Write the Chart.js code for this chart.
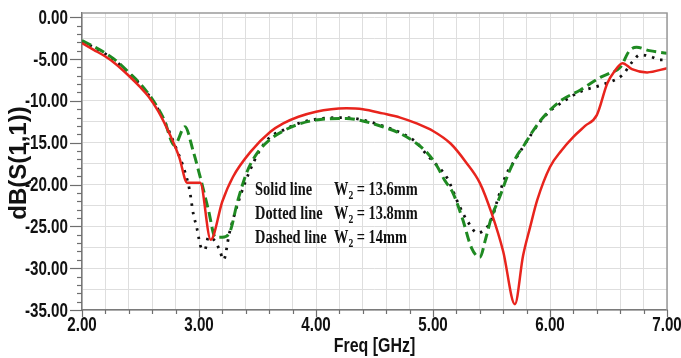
<!DOCTYPE html>
<html><head><meta charset="utf-8">
<script src="https://cdn.jsdelivr.net/npm/chart.js@4.4.1/dist/chart.umd.min.js"></script>
<style>html,body{margin:0;padding:0;background:#fff;}#wrap{width:681px;height:358px;}</style>
</head><body><div id="wrap"><canvas id="c" width="681" height="358"></canvas></div>
<script>
// Frequencies (GHz) and |S11| (dB)
const solidFreq = [2.0,2.1,2.2,2.28,2.4,2.5,2.57,2.65,2.75,2.83,2.9,3.01,3.1,3.2,3.29,3.44,3.61,3.72,3.85,4.0,4.13,4.26,4.4,4.57,4.72,4.86,5.0,5.15,5.28,5.4,5.5,5.6,5.7,5.77,5.83,5.89,6.0,6.1,6.2,6.3,6.4,6.49,6.55,6.62,6.7,6.83,7.0];
const solidDb   = [-3.1,-3.9,-4.7,-5.5,-7.0,-8.4,-9.5,-11.2,-14.0,-16.7,-19.8,-19.8,-26.6,-22.0,-19.1,-16.1,-13.7,-12.7,-11.9,-11.3,-11.0,-10.9,-11.0,-11.5,-12.0,-12.7,-13.6,-15.1,-17.3,-19.8,-23.4,-28.0,-34.3,-28.5,-25.1,-21.9,-17.9,-15.9,-14.3,-13.0,-11.7,-7.9,-6.5,-5.5,-6.2,-6.6,-6.1];

const dottedFreq = [2.0,2.1,2.2,2.3,2.4,2.5,2.6,2.7,2.8,2.88,2.92,2.95,2.98,3.02,3.05,3.08,3.14,3.18,3.21,3.26,3.35,3.43,3.52,3.61,3.72,3.85,4.0,4.26,4.4,4.57,4.72,4.86,4.95,5.04,5.12,5.23,5.3,5.38,5.44,5.5,5.55,5.62,5.7,5.77,5.91,6.0,6.09,6.26,6.44,6.62,6.7,6.77,6.86,6.94,7.0];
const dottedDb   = [-2.9,-3.6,-4.4,-5.4,-6.7,-8.1,-9.9,-12.3,-15.5,-18.5,-20.7,-23.4,-25.1,-27.6,-27.8,-26.3,-26.8,-28.0,-29.0,-25.8,-21.5,-18.5,-15.9,-14.3,-13.5,-12.7,-12.2,-12.0,-12.3,-13.0,-13.8,-15.0,-16.5,-17.8,-19.2,-22.7,-24.5,-25.8,-25.4,-24.2,-21.9,-19.0,-17.1,-15.5,-12.6,-11.2,-10.3,-8.9,-8.1,-6.9,-5.4,-4.5,-4.7,-5.1,-5.1];

const dashedFreq = [2.0,2.1,2.2,2.3,2.4,2.5,2.6,2.7,2.79,2.88,2.95,3.01,3.08,3.14,3.2,3.26,3.33,3.41,3.5,3.61,3.72,3.85,4.0,4.26,4.4,4.57,4.72,4.86,4.95,5.03,5.1,5.17,5.25,5.33,5.4,5.45,5.5,5.57,5.65,5.72,5.77,5.85,5.91,6.0,6.1,6.26,6.43,6.51,6.6,6.68,6.74,6.85,7.0];
const dashedDb   = [-2.8,-3.5,-4.3,-5.3,-6.6,-8.0,-9.8,-12.2,-15.3,-13.1,-16.0,-19.1,-23.0,-26.3,-26.3,-25.8,-22.0,-18.5,-16.2,-14.6,-13.6,-12.8,-12.3,-12.1,-12.4,-13.1,-13.9,-15.1,-16.2,-17.7,-19.5,-21.0,-24.0,-27.6,-28.7,-26.5,-23.9,-21.5,-18.5,-16.5,-15.5,-13.7,-12.5,-11.1,-9.9,-8.7,-7.2,-6.7,-6.0,-4.0,-3.6,-4.0,-4.3];

const xTickValues = [2, 3, 4, 5, 6, 7];
const xTickLabels = ['2.00','3.00','4.00','5.00','6.00','7.00'];
const yTickValues = [0, -5, -10, -15, -20, -25, -30, -35];
const yTickLabels = ['0.00','-5.00','-10.00','-15.00','-20.00','-25.00','-30.00','-35.00'];
const legendRows = [['Solid line','13.6mm'],['Dotted line','13.8mm'],['Dashed line','14mm']];

const pts = (xs, ys) => xs.map((x, i) => ({x, y: ys[i]}));
const SANS = '"Liberation Sans", Arial, sans-serif';
const SERIF = '"Liberation Serif", "Times New Roman", serif';

function narrowText(ctx, text, x, y, sx, align) {
  ctx.save();
  ctx.translate(x, y);
  ctx.scale(sx, 1);
  ctx.textAlign = align;
  ctx.fillText(text, 0, 0);
  ctx.restore();
}

const decor = {
  id: 'decor',
  afterDraw(chart) {
    const {ctx, chartArea: a, scales: {x, y}} = chart;
    ctx.save();
    // frame top/right
    ctx.strokeStyle = '#9a9a9a'; ctx.lineWidth = 1.5;
    ctx.beginPath(); ctx.moveTo(a.left, a.top); ctx.lineTo(a.right, a.top); ctx.lineTo(a.right, a.bottom); ctx.stroke();
    // tick marks
    ctx.strokeStyle = '#6e6e6e'; ctx.lineWidth = 1.2;
    for (let v = -35; v <= 0; v += 1) {
      const py = Math.round(y.getPixelForValue(v)) + 0.5;
      const len = (v % 5 === 0) ? 12 : 5;
      ctx.beginPath(); ctx.moveTo(a.left - len, py); ctx.lineTo(a.left, py); ctx.stroke();
    }
    for (let k = 0; k <= 25; k++) {
      const v = 2 + k * 0.2;
      const px = Math.round(x.getPixelForValue(v)) + 0.5;
      const len = (k % 5 === 0) ? 7 : 4;
      ctx.beginPath(); ctx.moveTo(px, a.bottom); ctx.lineTo(px, a.bottom + len); ctx.stroke();
    }
    // tick labels (condensed bold)
    ctx.fillStyle = '#111';
    ctx.textBaseline = 'middle';
    ctx.font = 'bold 20px ' + SANS;
    yTickValues.forEach((v, i) => narrowText(ctx, yTickLabels[i], a.left - 14, y.getPixelForValue(v) + 1, 0.76, 'right'));
    xTickValues.forEach((v, i) => narrowText(ctx, xTickLabels[i], x.getPixelForValue(v), 325, 0.76, 'center'));
    // axis titles
    ctx.font = 'bold 21px ' + SANS;
    narrowText(ctx, 'Freq [GHz]', (a.left + a.right) / 2, 346, 0.76, 'center');
    ctx.save();
    ctx.translate(19, 163); ctx.rotate(-Math.PI / 2);
    ctx.textAlign = 'center';
    ctx.font = 'bold 24px ' + SANS;
    ctx.fillText('dB(S(1,1))', 0, 0);
    ctx.restore();
    // legend text block
    const baseY = [195, 219, 243];
    ctx.textAlign = 'left'; ctx.textBaseline = 'alphabetic';
    legendRows.forEach((r, i) => {
      ctx.save();
      ctx.translate(255, baseY[i]);
      ctx.scale(0.8, 1);
      ctx.font = 'bold 18px ' + SERIF;
      ctx.fillText(r[0], 0, 0);
      let cx = (334 - 255) / 0.8;
      ctx.fillText('W', cx, 0);
      cx += ctx.measureText('W').width;
      ctx.font = 'bold 12px ' + SERIF;
      ctx.fillText('2', cx, 4);
      cx += ctx.measureText('2').width;
      ctx.font = 'bold 18px ' + SERIF;
      ctx.fillText(' = ' + r[1], cx, 0);
      ctx.restore();
    });
    ctx.restore();
  }
};

new Chart(document.getElementById('c'), {
  type: 'scatter',
  data: {
    datasets: [
      {label: 'Solid line W2 = 13.6mm', data: pts(solidFreq, solidDb), showLine: true, borderColor: '#e8241d', borderWidth: 2.5, pointRadius: 0, cubicInterpolationMode: 'monotone'},
      {label: 'Dashed line W2 = 14mm', data: pts(dashedFreq, dashedDb), showLine: true, borderColor: '#1f8a22', borderWidth: 3, borderDash: [10, 5], pointRadius: 0, cubicInterpolationMode: 'monotone'},
      {label: 'Dotted line W2 = 13.8mm', data: pts(dottedFreq, dottedDb), showLine: true, borderColor: '#111111', borderWidth: 2.8, borderDash: [2.5, 6], pointRadius: 0, cubicInterpolationMode: 'monotone'}
    ]
  },
  options: {
    responsive: false, animation: false, devicePixelRatio: 1,
    layout: {padding: {left: 0, right: 14, top: 13, bottom: 0}},
    plugins: {legend: {display: false}, tooltip: {enabled: false}},
    scales: {
      x: {
        type: 'linear', min: 2, max: 7,
        afterBuildTicks: s => { s.ticks = []; for (let k = 0; k <= 25; k++) s.ticks.push({value: +(2 + k * 0.2).toFixed(1)}); },
        ticks: {display: false},
        grid: {color: '#dedede', lineWidth: 1, drawTicks: false},
        border: {display: true, color: '#7a7a7a', width: 1.5},
        afterFit: s => { s.height = 48; s.paddingLeft = 0; s.paddingRight = 0; }
      },
      y: {
        type: 'linear', min: -35, max: 0.5,
        afterBuildTicks: s => { s.ticks = []; for (let k = 0; k <= 14; k++) s.ticks.push({value: -35 + k * 2.5}); },
        ticks: {display: false},
        grid: {color: '#dedede', lineWidth: 1, drawTicks: false},
        border: {display: true, color: '#7a7a7a', width: 1.5},
        afterFit: s => { s.width = 82; s.paddingTop = 0; s.paddingBottom = 0; }
      }
    }
  },
  plugins: [decor]
});
</script></body></html>
